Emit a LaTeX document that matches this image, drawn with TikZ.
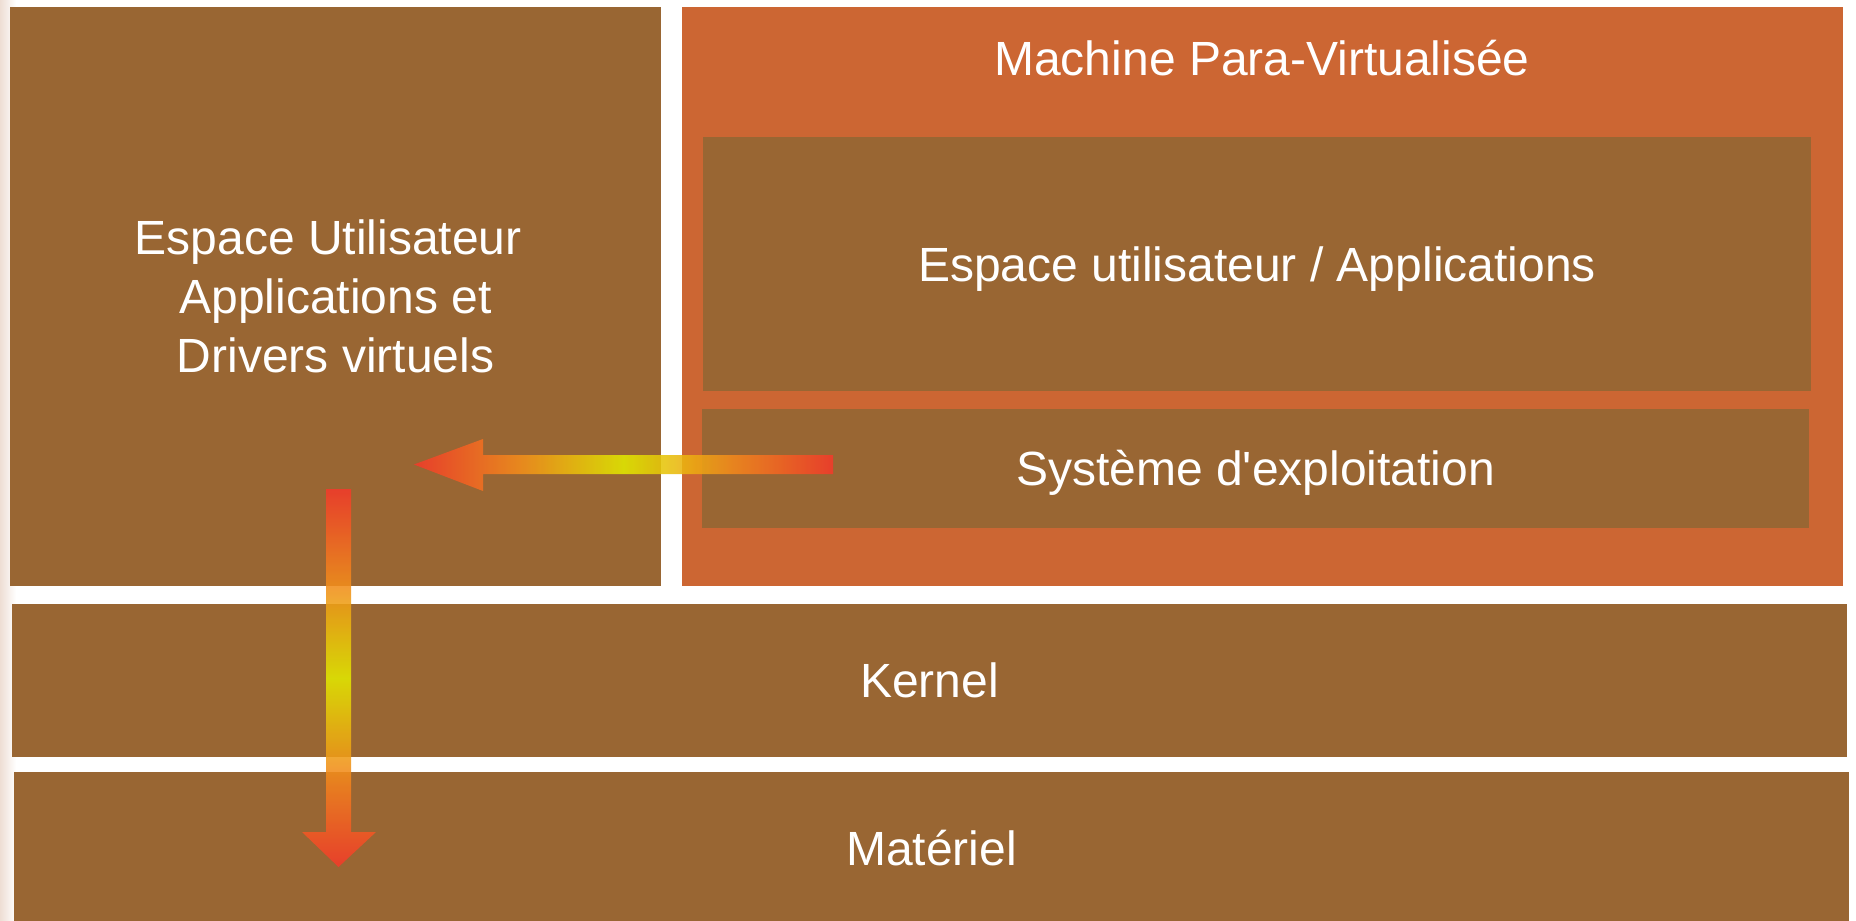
\documentclass[tikz,border=0pt]{standalone}
\usepackage{fontspec}
\usetikzlibrary{calc}
\newfontfamily\lsans{Liberation Sans}
\definecolor{boxbrown}{RGB}{153,102,51}
\definecolor{boxorange}{RGB}{204,102,51}
\definecolor{ared}{RGB}{242,58,42}
\definecolor{aorange}{RGB}{242,140,28}
\definecolor{ayellow}{RGB}{225,232,0}
\definecolor{bgbeige}{RGB}{238,222,212}
\pgfdeclarehorizontalshading{arrowgrad}{100bp}{color(0bp)=(ared); color(25bp)=(ared); color(37.5bp)=(aorange); color(50bp)=(ayellow); color(62.5bp)=(aorange); color(75bp)=(ared); color(100bp)=(ared)}
\tikzset{
  layer/.style={rectangle, inner sep=0pt, fill=boxbrown, text=white, font=\lsans\fontsize{48}{59}\selectfont, align=center},
  vmbox/.style={layer, fill=boxorange},
  lbl/.style={inner sep=0pt, text=white, font=\lsans\fontsize{48}{59}\selectfont, align=center},
  blockarrow/.style={shading=arrowgrad, fill opacity=0.88, draw=none}
}
\begin{document}
\begin{tikzpicture}[x=1pt,y=-1pt]
\useasboundingbox (0,0) rectangle (1856,921);
\fill[white] (0,0) rectangle (1856,921);
\shade[left color=bgbeige, right color=white] (0,0) rectangle (16,921);
% boxes
\node[layer, minimum width=651, minimum height=579] (user) at (335.5,296.5) {Espace Utilisateur\kern0.3em\\Applications et\\Drivers virtuels};
\node[vmbox, minimum width=1161, minimum height=579] (pvm) at (1262.5,296.5) {};
\node[lbl] (pvmlabel) at (1262,58) {Machine Para-Virtualisée};
\node[layer, minimum width=1108, minimum height=254, label={[lbl, yshift=-5pt]center:Espace utilisateur / Applications}] (apps) at (1257,264) {};
\node[layer, minimum width=1107, minimum height=119, label={[lbl, yshift=-4pt]center:Système d'exploitation}] (os) at (1255.5,468.5) {};
\node[layer, minimum width=1835, minimum height=153] (kernel) at (929.5,680.5) {Kernel};
\node[layer, minimum width=1835, minimum height=150, label={[lbl, yshift=-1pt]center:Matériel}] (hw) at (931.5,847) {};
% arrows
\coordinate (hstart) at (833,464.5);
\coordinate (htip) at (414,464.5);
\coordinate (vstart) at (338.5,489);
\coordinate (vtip) at (338.5,867);
\shade[blockarrow] ($(hstart)+(0,-9.5)$) -- (483,455) -- (483,439) -- (htip) -- (483,491) -- (483,474) -- ($(hstart)+(0,9.5)$) -- cycle;
\shade[blockarrow, shading angle=90] ($(vstart)+(-12.5,0)$) -- (326,832) -- (302,832) -- (vtip) -- (376,832) -- (351,832) -- ($(vstart)+(12.5,0)$) -- cycle;
\end{tikzpicture}
\end{document}
